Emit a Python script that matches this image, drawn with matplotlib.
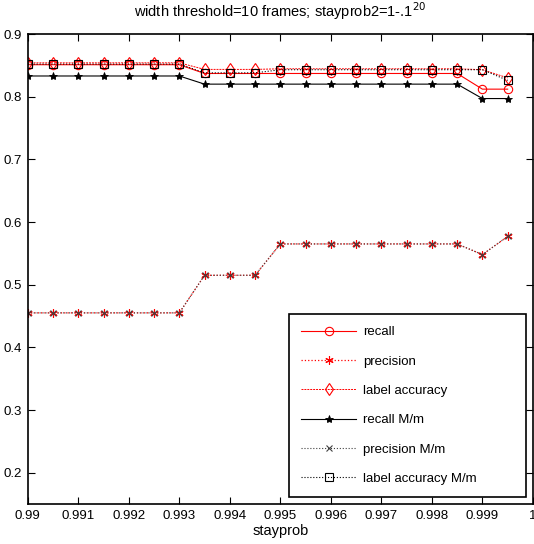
import numpy as np
import matplotlib
matplotlib.use("Agg")
from matplotlib import pyplot as plt
from matplotlib.ticker import FuncFormatter

plt.rcParams["font.family"] = ["Liberation Sans", "DejaVu Sans"]

stayprob = [0.99, 0.9905, 0.991, 0.9915, 0.992, 0.9925, 0.993, 0.9935, 0.994, 0.9945,
            0.995, 0.9955, 0.996, 0.9965, 0.997, 0.9975, 0.998, 0.9985, 0.999, 0.9995]

recall = [0.851] * 7 + [0.837] * 3 + [0.837] * 8 + [0.812, 0.812]
precision = [0.455] * 7 + [0.515] * 3 + [0.565] * 8 + [0.548, 0.577]
label_acc = [0.854] * 7 + [0.8435] * 3 + [0.8445] * 8 + [0.843, 0.830]
recall_mm = [0.833] * 7 + [0.820] * 3 + [0.820] * 8 + [0.797, 0.797]
precision_mm = [0.455] * 7 + [0.515] * 3 + [0.565] * 8 + [0.548, 0.577]
label_acc_mm = [0.852] * 7 + [0.838] * 3 + [0.843] * 8 + [0.843, 0.826]

fig = plt.figure(figsize=(5.34, 5.44), dpi=100)
ax = fig.add_axes([0.052, 0.0735, 0.946, 0.864])

ax.plot(stayprob, recall, "-", color="red", lw=0.8, marker="o", mfc="none",
        ms=6, mew=0.8, label="recall")
ax.plot(stayprob, precision, ":", color="red", lw=0.9, marker=(6, 2, 0),
        ms=6, mew=0.8, label="precision")
ax.plot(stayprob, label_acc, "--", color="red", lw=0.7, marker="d", mfc="none",
        ms=6, mew=0.8, dashes=(2, 1), label="label accuracy")
ax.plot(stayprob, recall_mm, "-", color="black", lw=0.8, marker="*", mfc="black",
        ms=6, mew=0.6, label="recall M/m")
ax.plot(stayprob, precision_mm, ":", color="#404040", lw=0.8, marker="x",
        ms=4, mew=0.8, label="precision M/m")
ax.plot(stayprob, label_acc_mm, ":", color="black", lw=0.8, marker="s", mfc="none",
        ms=6, mew=0.8, label="label accuracy M/m")

ax.set_xlim(0.99, 1.0)
ax.set_ylim(0.15, 0.9)
ax.set_xticks(np.arange(0.99, 1.00001, 0.001))
ax.set_yticks([0.2, 0.3, 0.4, 0.5, 0.6, 0.7, 0.8, 0.9])
ax.xaxis.set_major_formatter(FuncFormatter(lambda v, p: "%g" % round(v, 3)))
ax.yaxis.set_major_formatter(FuncFormatter(lambda v, p: "%g" % round(v, 1)))
ax.tick_params(direction="in", top=True, right=True, length=5, width=0.8,
               labelsize=9.5, pad=4)
for s in ax.spines.values():
    s.set_linewidth(1.2)

ax.set_title("width threshold=10 frames; stayprob2=1-.1$^{20}$", fontsize=10.5, pad=12)
ax.set_xlabel("stayprob", fontsize=10.5, labelpad=2)

leg = ax.legend(loc="lower left", bbox_to_anchor=(0.517, 0.015, 0.469, 0.39),
                mode="expand", fontsize=9.5,
                fancybox=False, edgecolor="black", framealpha=1,
                handlelength=4.2, labelspacing=1.3, borderpad=0.9,
                handletextpad=0.55, borderaxespad=0)
leg.get_frame().set_linewidth(1.2)

fig.savefig("out.png", dpi=100)
